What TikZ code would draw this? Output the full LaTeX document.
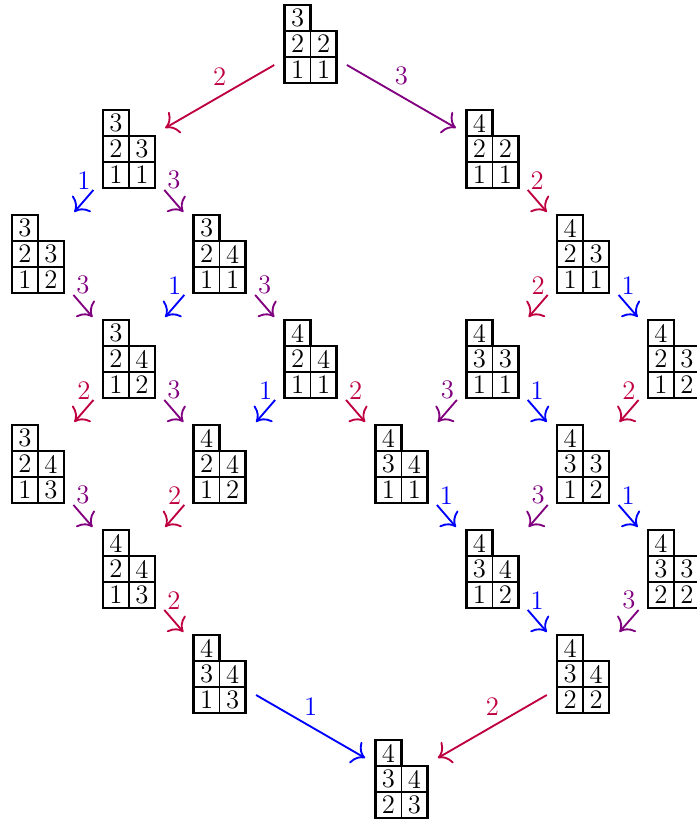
\documentclass[tikz,border=0pt]{standalone}
\usepackage{amsmath}
\usetikzlibrary{calc,arrows.meta}

% one tableau: name, column, row, top, middle row, bottom row
\newcommand{\ytab}[8]{%
  \node[tab] (#1) at ({38+90.86*#2},{44+105*#3}) {};
  \node (#1a) at ($(#1)+(-13,-26)$) {#4};
  \node (#1b) at ($(#1)+(-13,0)$) {#5};
  \node (#1c) at ($(#1)+(13,0)$) {#6};
  \node (#1d) at ($(#1)+(-13,26)$) {#7};
  \node (#1e) at ($(#1)+(13,26)$) {#8};
  \draw[inner] ($(#1)+(-26,-13)$) -- ++(26,0);
  \draw[inner] ($(#1)+(-26,13)$) -- ++(52,0);
  \draw[inner] ($(#1)+(0,-13)$) -- ++(0,52);
  \draw[outline] ($(#1)+(-26,-39)$) -- ++(26,0) -- ++(0,26) -- ++(26,0)
    -- ++(0,52) -- ++(-52,0) -- cycle;
}

\begin{document}
\begin{tikzpicture}[x=0.43pt,y=-0.43pt,
    every node/.style={font=\fontsize{11.5}{14}\selectfont},
    tab/.style={inner sep=0pt, minimum width=22.4pt, minimum height=33.5pt},
    inner/.style={line width=0.6pt},
    outline/.style={line width=1.1pt, line join=miter},
    lbl/.style={midway, above=1.2pt},
    a1/.style={-{To[scale=1.5]},thick,blue},
    a2/.style={-{To[scale=1.5]},thick,purple},
    a3/.style={-{To[scale=1.5]},thick,violet}]
    \useasboundingbox (0,0) rectangle (696,824);

    \ytab{t30}{3}{0}{3}{2}{2}{1}{1}

    \ytab{t11}{1}{1}{3}{2}{3}{1}{1}
    \ytab{t51}{5}{1}{4}{2}{2}{1}{1}

    \ytab{t02}{0}{2}{3}{2}{3}{1}{2}
    \ytab{t22}{2}{2}{3}{2}{4}{1}{1}
    \ytab{t62}{6}{2}{4}{2}{3}{1}{1}

    \ytab{t13}{1}{3}{3}{2}{4}{1}{2}
    \ytab{t33}{3}{3}{4}{2}{4}{1}{1}
    \ytab{t53}{5}{3}{4}{3}{3}{1}{1}
    \ytab{t73}{7}{3}{4}{2}{3}{1}{2}

    \ytab{t04}{0}{4}{3}{2}{4}{1}{3}
    \ytab{t24}{2}{4}{4}{2}{4}{1}{2}
    \ytab{t44}{4}{4}{4}{3}{4}{1}{1}
    \ytab{t64}{6}{4}{4}{3}{3}{1}{2}

    \ytab{t15}{1}{5}{4}{2}{4}{1}{3}
    \ytab{t55}{5}{5}{4}{3}{4}{1}{2}
    \ytab{t75}{7}{5}{4}{3}{3}{2}{2}

    \ytab{t26}{2}{6}{4}{3}{4}{1}{3}
    \ytab{t66}{6}{6}{4}{3}{4}{2}{2}

    \ytab{t47}{4}{7}{4}{3}{4}{2}{3}

    \draw[a2] ($(t30)!.2!(t11)$) -- node[lbl]{2} ($(t30)!.8!(t11)$);
    \draw[a3] ($(t30)!.2!(t51)$) -- node[lbl]{3} ($(t30)!.8!(t51)$);

    \draw[a1] ($(t11)!.39!(t02)$) -- node[lbl]{1} ($(t11)!.6!(t02)$);
    \draw[a3] ($(t11)!.39!(t22)$) -- node[lbl]{3} ($(t11)!.6!(t22)$);
    \draw[a2] ($(t51)!.39!(t62)$) -- node[lbl]{2} ($(t51)!.6!(t62)$);

    \draw[a3] ($(t02)!.39!(t13)$) -- node[lbl]{3} ($(t02)!.6!(t13)$);
    \draw[a1] ($(t22)!.39!(t13)$) -- node[lbl]{1} ($(t22)!.6!(t13)$);
    \draw[a3] ($(t22)!.39!(t33)$) -- node[lbl]{3} ($(t22)!.6!(t33)$);
    \draw[a2] ($(t62)!.39!(t53)$) -- node[lbl]{2} ($(t62)!.6!(t53)$);
    \draw[a1] ($(t62)!.39!(t73)$) -- node[lbl]{1} ($(t62)!.6!(t73)$);

    \draw[a2] ($(t13)!.39!(t04)$) -- node[lbl]{2} ($(t13)!.6!(t04)$);
    \draw[a3] ($(t13)!.39!(t24)$) -- node[lbl]{3} ($(t13)!.6!(t24)$);
    \draw[a1] ($(t33)!.39!(t24)$) -- node[lbl]{1} ($(t33)!.6!(t24)$);
    \draw[a2] ($(t33)!.39!(t44)$) -- node[lbl]{2} ($(t33)!.6!(t44)$);
    \draw[a3] ($(t53)!.39!(t44)$) -- node[lbl]{3} ($(t53)!.6!(t44)$);
    \draw[a1] ($(t53)!.39!(t64)$) -- node[lbl]{1} ($(t53)!.6!(t64)$);
    \draw[a2] ($(t73)!.39!(t64)$) -- node[lbl]{2} ($(t73)!.6!(t64)$);

    \draw[a3] ($(t04)!.39!(t15)$) -- node[lbl]{3} ($(t04)!.6!(t15)$);
    \draw[a2] ($(t24)!.39!(t15)$) -- node[lbl]{2} ($(t24)!.6!(t15)$);
    \draw[a1] ($(t44)!.39!(t55)$) -- node[lbl]{1} ($(t44)!.6!(t55)$);
    \draw[a3] ($(t64)!.39!(t55)$) -- node[lbl]{3} ($(t64)!.6!(t55)$);
    \draw[a1] ($(t64)!.39!(t75)$) -- node[lbl]{1} ($(t64)!.6!(t75)$);

    \draw[a2] ($(t15)!.39!(t26)$) -- node[lbl]{2} ($(t15)!.6!(t26)$);
    \draw[a1] ($(t55)!.39!(t66)$) -- node[lbl]{1} ($(t55)!.6!(t66)$);
    \draw[a3] ($(t75)!.39!(t66)$) -- node[lbl]{3} ($(t75)!.6!(t66)$);

    \draw[a1] ($(t26)!.2!(t47)$) -- node[lbl]{1} ($(t26)!.8!(t47)$);
    \draw[a2] ($(t66)!.2!(t47)$) -- node[lbl]{2} ($(t66)!.8!(t47)$);
\end{tikzpicture}
\end{document}
